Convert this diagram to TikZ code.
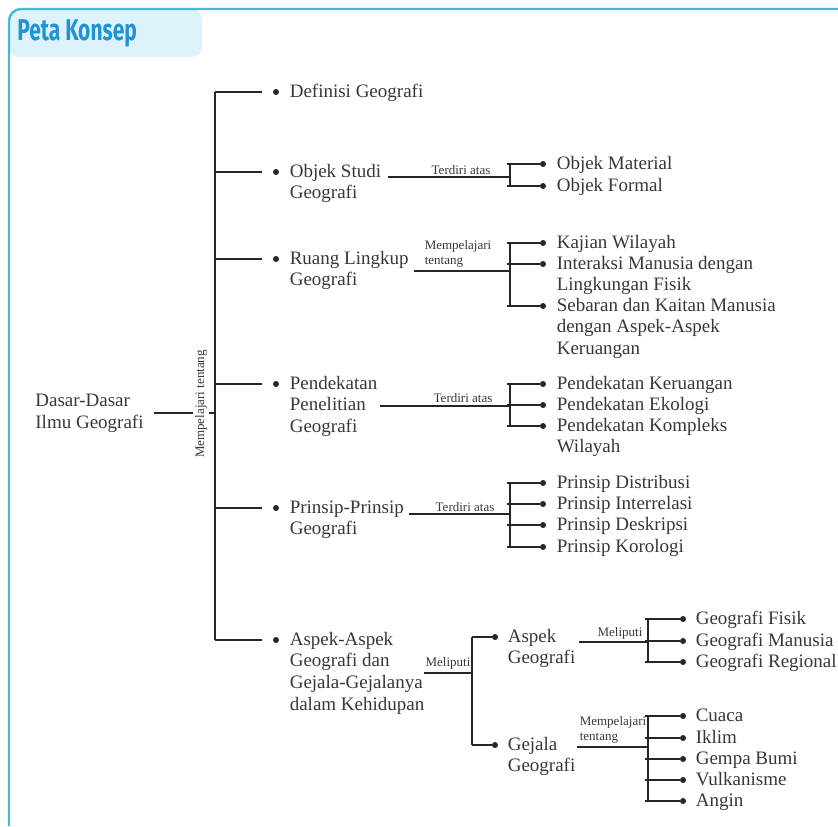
\documentclass[tikz,border=0pt]{standalone}
\usepackage{fontspec}
\setmainfont{Liberation Serif}
\newfontfamily\titlefont{Fira Sans}
\usepackage{graphicx}
\usetikzlibrary{positioning, calc}
\definecolor{frameCyan}{RGB}{72, 184, 214}
\definecolor{tabBlue}{RGB}{222, 242, 251}
\definecolor{titleBlue}{RGB}{28, 148, 214}
\definecolor{inkGray}{RGB}{55, 55, 55}
\newcommand{\rows}[1]{\begin{tabular}[t]{@{}l@{}}#1\end{tabular}}

\begin{document}
\begin{tikzpicture}[
    x=0.5pt, y=-0.5pt,
    every node/.style={font=\fontsize{9.5}{10.8}\selectfont, text=inkGray},
    dot/.style={circle, fill=black!85, inner sep=0pt, minimum size=3pt},
    txt/.style={anchor=base west, inner sep=0pt, yshift=-2.6pt},
    lbl/.style={font=\fontsize{6.5}{7.8}\selectfont, inner sep=0pt, align=left},
    ln/.style={draw=black!85, line width=0.65pt},
    branch/.style={ln, shorten >=5.5pt},
    stub/.style={ln, shorten <=-1.5pt},
]
\useasboundingbox (0,0) rectangle (838,826);
% header
\fill[tabBlue, rounded corners=5pt] (9,9) rectangle (202,57);
\draw[frameCyan, line width=1.2pt, rounded corners=6pt] (9,826) -- (9,9) -- (838,9);
\node[anchor=west, inner sep=0pt, text=titleBlue] (title) at (17,33) {\titlefont\fontsize{15}{16}\selectfont\bfseries\scalebox{0.7}[1]{Peta Konsep}};

% root and spine
\node[anchor=west, inner sep=0pt] (root) at (35,413) {\rows{Dasar-Dasar\\Ilmu Geografi}};
\coordinate (spine) at (215,0);

% main branches
\node[dot] (bDef) at (276,92) {};
\node[txt] (tDef) at ([xshift=5pt]bDef.east) {Definisi Geografi};
\node[dot] (bObj) at (276,172) {};
\node[txt] (tObj) at ([xshift=5pt]bObj.east) {\rows{Objek Studi\\Geografi}};
\node[dot] (bRuang) at (276,259) {};
\node[txt] (tRuang) at ([xshift=5pt]bRuang.east) {\rows{Ruang Lingkup\\Geografi}};
\node[dot] (bPend) at (276,384) {};
\node[txt] (tPend) at ([xshift=5pt]bPend.east) {\rows{Pendekatan\\Penelitian\\Geografi}};
\node[dot] (bPrin) at (276,508) {};
\node[txt] (tPrin) at ([xshift=5pt]bPrin.east) {\rows{Prinsip-Prinsip\\Geografi}};
\node[dot] (bAsp) at (276,640) {};
\node[txt] (tAsp) at ([xshift=5pt]bAsp.east) {\rows{Aspek-Aspek\\Geografi dan\\Gejala-Gejalanya\\dalam Kehidupan}};

\draw[ln, shorten <=5pt] (root.east) -- (root.east -| spine);
\draw[ln] (spine |- bDef) -- (spine |- bAsp);
\draw[branch] (spine |- bDef) -- (bDef); \draw[branch] (spine |- bObj) -- (bObj); \draw[branch] (spine |- bRuang) -- (bRuang);
\draw[branch] (spine |- bPend) -- (bPend); \draw[branch] (spine |- bPrin) -- (bPrin); \draw[branch] (spine |- bAsp) -- (bAsp);
\node[lbl, rotate=90, fill=white, inner sep=1pt] (lMain) at (201,404) {Mempelajari tentang};

% objek studi
\coordinate (objS) at (388,177);
\coordinate (brObj) at (510,0);
\node[dot] (bObM) at (543,164) {};
\node[txt] (tObM) at ([xshift=5pt]bObM.east) {Objek Material};
\node[dot] (bObF) at (543,186) {};
\node[txt] (tObF) at ([xshift=5pt]bObF.east) {Objek Formal};
\draw[ln] (objS) -- (objS -| brObj);
\draw[ln] (brObj |- bObM) -- (brObj |- bObF);
\draw[stub] (brObj |- bObM) -- (bObM); \draw[stub] (brObj |- bObF) -- (bObF);
\node[lbl] (lObj) at (461,170) {Terdiri atas};

% ruang lingkup
\coordinate (ruangS) at (414,271);
\coordinate (brRuang) at (510,0);
\node[dot] (bKaj) at (543,243) {};
\node[txt] (tKaj) at ([xshift=5pt]bKaj.east) {Kajian Wilayah};
\node[dot] (bInt) at (543,264) {};
\node[txt] (tInt) at ([xshift=5pt]bInt.east) {\rows{Interaksi Manusia dengan\\Lingkungan Fisik}};
\node[dot] (bSeb) at (543,306) {};
\node[txt] (tSeb) at ([xshift=5pt]bSeb.east) {\rows{Sebaran dan Kaitan Manusia\\dengan Aspek-Aspek\\Keruangan}};
\draw[ln] (ruangS) -- (ruangS -| brRuang);
\draw[ln] (brRuang |- bKaj) -- (brRuang |- bSeb);
\draw[stub] (brRuang |- bKaj) -- (bKaj); \draw[stub] (brRuang |- bInt) -- (bInt); \draw[stub] (brRuang |- bSeb) -- (bSeb);
\node[lbl] (lRuang) at (458,254) {Mempelajari\\tentang};

% pendekatan
\coordinate (pendS) at (380,406);
\coordinate (brPend) at (510,0);
\node[dot] (bKer) at (543,384) {};
\node[txt] (tKer) at ([xshift=5pt]bKer.east) {Pendekatan Keruangan};
\node[dot] (bEko) at (543,405) {};
\node[txt] (tEko) at ([xshift=5pt]bEko.east) {Pendekatan Ekologi};
\node[dot] (bKom) at (543,426) {};
\node[txt] (tKom) at ([xshift=5pt]bKom.east) {\rows{Pendekatan Kompleks\\Wilayah}};
\draw[ln] (pendS) -- (pendS -| brPend);
\draw[ln] (brPend |- bKer) -- (brPend |- bKom);
\draw[stub] (brPend |- bKer) -- (bKer); \draw[stub] (brPend |- bEko) -- (bEko); \draw[stub] (brPend |- bKom) -- (bKom);
\node[lbl] (lPend) at (463,398) {Terdiri atas};

% prinsip
\coordinate (prinS) at (409,514);
\coordinate (brPrin) at (510,0);
\node[dot] (bDis) at (543,483) {};
\node[txt] (tDis) at ([xshift=5pt]bDis.east) {Prinsip Distribusi};
\node[dot] (bInr) at (543,504) {};
\node[txt] (tInr) at ([xshift=5pt]bInr.east) {Prinsip Interrelasi};
\node[dot] (bDes) at (543,525) {};
\node[txt] (tDes) at ([xshift=5pt]bDes.east) {Prinsip Deskripsi};
\node[dot] (bKor) at (543,547) {};
\node[txt] (tKor) at ([xshift=5pt]bKor.east) {Prinsip Korologi};
\draw[ln] (prinS) -- (prinS -| brPrin);
\draw[ln] (brPrin |- bDis) -- (brPrin |- bKor);
\draw[stub] (brPrin |- bDis) -- (bDis); \draw[stub] (brPrin |- bInr) -- (bInr);
\draw[stub] (brPrin |- bDes) -- (bDes); \draw[stub] (brPrin |- bKor) -- (bKor);
\node[lbl] (lPrin) at (465,507) {Terdiri atas};

% aspek-aspek
\coordinate (aspS) at (424,673);
\coordinate (brAsp) at (472,0);
\node[dot] (bAG) at (495,637) {};
\node[txt] (tAG) at ([xshift=4.5pt]bAG.east) {\rows{Aspek\\Geografi}};
\node[dot] (bGG) at (495,745) {};
\node[txt] (tGG) at ([xshift=4.5pt]bGG.east) {\rows{Gejala\\Geografi}};
\draw[ln] (aspS) -- (aspS -| brAsp);
\draw[ln] (brAsp |- bAG) -- (brAsp |- bGG);
\draw[ln] (brAsp |- bAG) -- (bAG); \draw[ln] (brAsp |- bGG) -- (bGG);
\node[lbl] (lAsp) at (448,663) {Meliputi};

% aspek geografi
\coordinate (agS) at (579,642);
\coordinate (brAG) at (648,0);
\node[dot] (bFis) at (683,619) {};
\node[txt] (tFis) at ([xshift=4.5pt]bFis.east) {Geografi Fisik};
\node[dot] (bMan) at (683,641) {};
\node[txt] (tMan) at ([xshift=4.5pt]bMan.east) {Geografi Manusia};
\node[dot] (bReg) at (683,662) {};
\node[txt] (tReg) at ([xshift=4.5pt]bReg.east) {Geografi Regional};
\draw[ln] (agS) -- (agS -| brAG);
\draw[ln] (brAG |- bFis) -- (brAG |- bReg);
\draw[stub] (brAG |- bFis) -- (bFis); \draw[stub] (brAG |- bMan) -- (bMan); \draw[stub] (brAG |- bReg) -- (bReg);
\node[lbl] (lAG) at (620,633) {Meliputi};

% gejala geografi
\coordinate (ggS) at (577,747);
\coordinate (brGG) at (648,0);
\node[dot] (bCua) at (683,716) {};
\node[txt] (tCua) at ([xshift=4.5pt]bCua.east) {Cuaca};
\node[dot] (bIkl) at (683,738) {};
\node[txt] (tIkl) at ([xshift=4.5pt]bIkl.east) {Iklim};
\node[dot] (bGem) at (683,759) {};
\node[txt] (tGem) at ([xshift=4.5pt]bGem.east) {Gempa Bumi};
\node[dot] (bVul) at (683,780) {};
\node[txt] (tVul) at ([xshift=4.5pt]bVul.east) {Vulkanisme};
\node[dot] (bAng) at (683,801) {};
\node[txt] (tAng) at ([xshift=4.5pt]bAng.east) {Angin};
\draw[ln] (ggS) -- (ggS -| brGG);
\draw[ln] (brGG |- bCua) -- (brGG |- bAng);
\draw[stub] (brGG |- bCua) -- (bCua); \draw[stub] (brGG |- bIkl) -- (bIkl); \draw[stub] (brGG |- bGem) -- (bGem);
\draw[stub] (brGG |- bVul) -- (bVul); \draw[stub] (brGG |- bAng) -- (bAng);
\node[lbl] (lGG) at (613,730) {Mempelajari\\tentang};
\end{tikzpicture}
\end{document}
